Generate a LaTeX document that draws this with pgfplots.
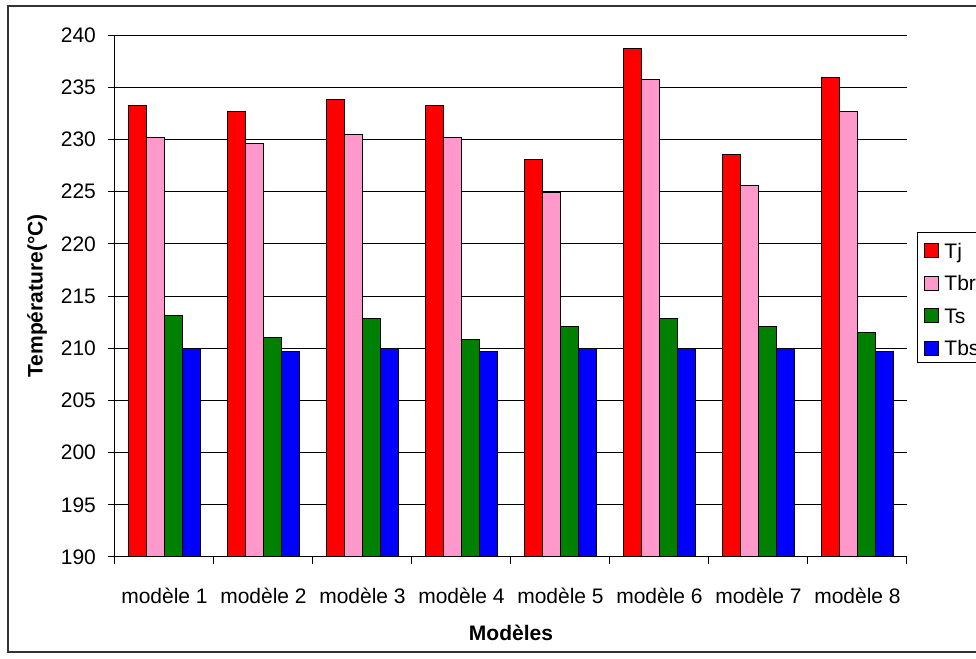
\documentclass[border=0pt]{standalone}
\usepackage{fontspec}
\setmainfont{Liberation Sans}
\usepackage{pgfplots}
\pgfplotsset{compat=1.18}
\definecolor{cTj}{RGB}{255,0,0}
\definecolor{cTbr}{RGB}{255,153,204}
\definecolor{cTs}{RGB}{0,128,0}
\definecolor{cTbs}{RGB}{0,0,255}
\begin{document}
\begin{tikzpicture}[font=\fontsize{10.5}{12}\selectfont]
\useasboundingbox (-57.5pt,-51pt) rectangle (430.5pt,278.5pt);
\draw[line width=0.6pt, black!80] (-53.5pt,-47.5pt) rectangle (470pt,275.5pt);
\begin{axis}[
  at={(0pt,0pt)}, anchor=south west,
  scale only axis, width=396pt, height=261pt,
  /pgf/number format/assume math mode=true,
  ybar=0pt, bar width=9pt,
  xmin=-0.5, xmax=7.5, ymin=190, ymax=240,
  ytick={190,195,...,240},
  xtick={-0.5,0.5,...,7.5},
  x tick label as interval,
  xticklabels={modèle 1,modèle 2,modèle 3,modèle 4,modèle 5,modèle 6,modèle 7,modèle 8},
  tick align=outside, major tick length=3.5pt, tick pos=left,
  tick style={black, line width=0.5pt},
  axis x line*=bottom, axis y line*=left,
  axis line style={-, black, line width=0.5pt},
  ymajorgrids, xmajorgrids=false,
  major grid style={black, line width=0.5pt},
  xticklabel style={font=\fontsize{10.5}{12}\selectfont, yshift=-8.5pt},
  yticklabel style={font=\fontsize{10.5}{12}\selectfont, xshift=-2.5pt},
  every axis y label/.style={at={(axis description cs:-0.0985,0.5)}, rotate=90, anchor=center, font=\bfseries\fontsize{10.5}{12}\selectfont},
  every axis x label/.style={at={(axis description cs:0.5,-0.1456)}, anchor=center, font=\bfseries\fontsize{10.5}{12}\selectfont},
  ylabel={Température(°C)},
  xlabel={Modèles},
  legend cell align=left,
  legend style={at={(axis description cs:1.0123,0.6226)}, anchor=north west,
    draw=black, line width=0.5pt, inner xsep=3.6pt, inner ysep=0pt,
    row sep=0pt, column sep=2.5pt,
    nodes={inner sep=0pt, text height=12.75pt, text depth=3.5pt, anchor=base west},
    font=\fontsize{10.5}{12}\selectfont},
  every axis plot post/.append style={draw=black, line width=0.5pt,
    legend image code/.code={\draw[##1, draw=black, line width=0.5pt] (0pt,0.25pt) rectangle (7pt,7.25pt);}},
]
\addplot[fill=cTj] coordinates {(0,233.2) (1,232.7) (2,233.8) (3,233.2) (4,228.1) (5,238.7) (6,228.6) (7,235.9)};
\addplot[fill=cTbr] coordinates {(0,230.2) (1,229.6) (2,230.5) (3,230.2) (4,224.9) (5,235.7) (6,225.6) (7,232.7)};
\addplot[fill=cTs] coordinates {(0,213.1) (1,211.0) (2,212.8) (3,210.8) (4,212.1) (5,212.8) (6,212.1) (7,211.5)};
\addplot[fill=cTbs] coordinates {(0,210.0) (1,209.7) (2,210.0) (3,209.7) (4,210.0) (5,210.0) (6,210.0) (7,209.7)};
\legend{Tj,Tbr,Ts,Tbs}
\end{axis}
\end{tikzpicture}
\end{document}
